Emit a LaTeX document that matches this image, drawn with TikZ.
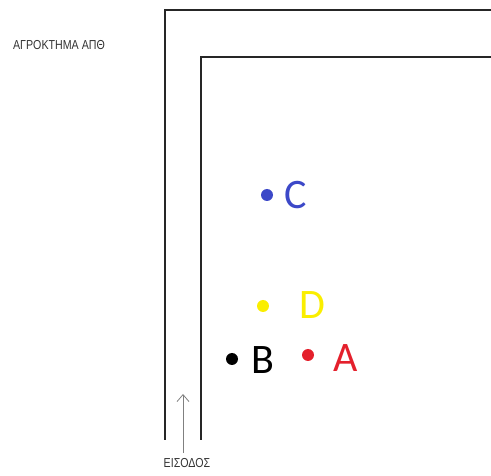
\documentclass[tikz,border=0pt]{standalone}
\usetikzlibrary{arrows.meta}
\usepackage{fontspec}
\setmainfont{Carlito}
\newfontfamily\labfont{Liberation Sans}
\definecolor{cblue}{RGB}{60,72,200}
\definecolor{cyel}{RGB}{250,238,0}
\definecolor{cred}{RGB}{228,32,44}
\begin{document}
\begin{tikzpicture}[x=1pt,y=-1pt,
  wall/.style={line width=2.8pt,draw=black!85},
  pt/.style={circle,inner sep=0pt,minimum size=12pt},
  lett/.style={font=\fontsize{42}{42}\selectfont,inner sep=0pt},
  lab/.style={font=\labfont\fontsize{13}{13}\selectfont,text=black!80,inner sep=0pt,xscale=0.82}]
\useasboundingbox (0,0) rectangle (491,476);
\coordinate (o1) at (165,440); \coordinate (o2) at (165,10); \coordinate (o3) at (492,10);
\coordinate (i1) at (201,440); \coordinate (i2) at (201,57); \coordinate (i3) at (492,57);
\draw[wall] (o1) -- (o2) -- (o3);
\draw[wall] (i1) -- (i2) -- (i3);
\node[lab] (title) at (59,45) {ΑΓΡΟΚΤΗΜΑ ΑΠΘ};
\node[lab] (ent) at (187,463) {ΕΙΣΟΔΟΣ};
\coordinate (arrS) at (183,453);
\coordinate (arrE) at (183,394);
\draw[black!50,line width=0.8pt,-{Straight Barb[length=7pt,width=12pt]}] (arrS) -- (arrE);
\node[pt,fill=cblue] (dC) at (267,195) {};
\node[lett,text=cblue] (C) at (296,195) {C};
\node[pt,fill=cyel] (dD) at (263,306) {};
\node[lett,text=cyel] (D) at (312,305) {D};
\node[pt,fill=black] (dB) at (232,359) {};
\node[lett,text=black] (B) at (263,360) {B};
\node[pt,fill=cred] (dA) at (308,355) {};
\node[lett,text=cred] (A) at (346,358) {A};
\end{tikzpicture}
\end{document}
